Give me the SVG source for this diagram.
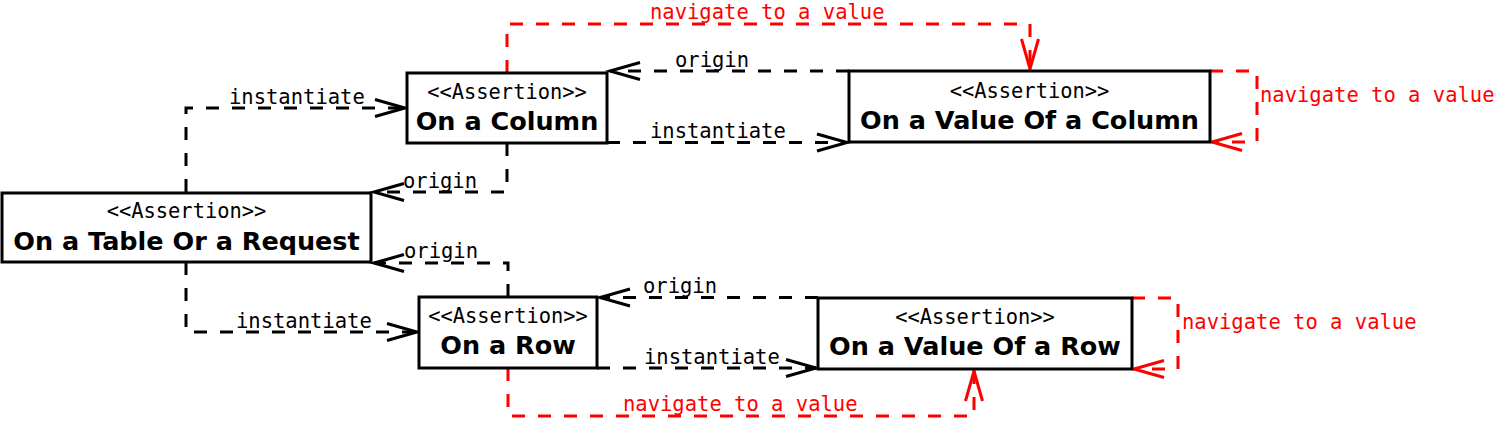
<svg xmlns="http://www.w3.org/2000/svg" width="1498" height="445" viewBox="0 0 1498 445">
<style>
  .box { fill: #ffffff; stroke: #000000; stroke-width: 3; }
  .st { font-family: "DejaVu Sans Mono", "Liberation Mono", monospace; font-size: 20.4px; fill: #000000; text-anchor: middle; }
  .nm { font-family: "DejaVu Sans", "Liberation Sans", sans-serif; font-size: 25.5px; font-weight: bold; fill: #000000; text-anchor: middle; }
  .lbl { font-family: "DejaVu Sans Mono", "Liberation Mono", monospace; font-size: 20.5px; fill: #000000; }
  .rlbl { font-family: "DejaVu Sans Mono", "Liberation Mono", monospace; font-size: 20.5px; fill: #ff0000; }
  .dep { fill: none; stroke: #000000; stroke-width: 3; stroke-dasharray: 13 13; marker-end: url(#ab); }
  .nav { fill: none; stroke: #ff0000; stroke-width: 3; stroke-dasharray: 13 13; marker-end: url(#ar); }
</style>
<defs>
  <marker id="ab" markerUnits="userSpaceOnUse" markerWidth="40" markerHeight="24" refX="0" refY="0" viewBox="-32 -12 36 24" orient="auto" overflow="visible">
    <path d="M-30,-8.5 L0,0 L-30,8.5" fill="none" stroke="#000000" stroke-width="3" stroke-dasharray="none"/>
  </marker>
  <marker id="ar" markerUnits="userSpaceOnUse" markerWidth="40" markerHeight="24" refX="0" refY="0" viewBox="-32 -12 36 24" orient="auto" overflow="visible">
    <path d="M-30,-8.5 L0,0 L-30,8.5" fill="none" stroke="#ff0000" stroke-width="3" stroke-dasharray="none"/>
  </marker>
</defs>
<rect width="1498" height="445" fill="#ffffff"/>
<g id="connectors">
  <path class="dep" d="M186,192 V108 H405"/>
  <path class="dep" d="M507,143 V192 H374"/>
  <path class="dep" d="M607,142.5 H847"/>
  <path class="dep" d="M849,71 H610"/>
  <path class="dep" d="M186,262 V332 H417"/>
  <path class="dep" d="M508,297 V263 H374"/>
  <path class="dep" d="M597,368 H816"/>
  <path class="dep" d="M818,297.5 H600"/>
  <path class="nav" d="M507,73 V24 H1030 V69"/>
  <path class="nav" d="M1210,71 H1257 V142 H1212"/>
  <path class="nav" d="M508,368 V416 H974 V371"/>
  <path class="nav" d="M1132,298 H1178 V369 H1134"/>
  <text class="lbl" x="229" y="104">instantiate</text>
  <text class="lbl" x="403" y="188">origin</text>
  <text class="lbl" x="404" y="258">origin</text>
  <text class="lbl" x="236" y="328">instantiate</text>
  <text class="lbl" x="675" y="67">origin</text>
  <text class="lbl" x="650" y="138">instantiate</text>
  <text class="lbl" x="643" y="293">origin</text>
  <text class="lbl" x="644" y="364">instantiate</text>
  <text class="rlbl" x="650" y="19">navigate to a value</text>
  <text class="rlbl" x="1260" y="102">navigate to a value</text>
  <text class="rlbl" x="1182" y="329">navigate to a value</text>
  <text class="rlbl" x="623" y="411">navigate to a value</text>
</g>
<g id="node-table">
  <rect class="box" x="2" y="193" width="369" height="69"/>
  <text class="st" x="186.5" y="218">&lt;&lt;Assertion&gt;&gt;</text>
  <text class="nm" x="186.5" y="250">On a Table Or a Request</text>
</g>
<g id="node-column">
  <rect class="box" x="407" y="73" width="200" height="70"/>
  <text class="st" x="507" y="99">&lt;&lt;Assertion&gt;&gt;</text>
  <text class="nm" x="507" y="130">On a Column</text>
</g>
<g id="node-value-column">
  <rect class="box" x="849" y="71" width="361" height="71"/>
  <text class="st" x="1029.5" y="97.5">&lt;&lt;Assertion&gt;&gt;</text>
  <text class="nm" x="1029.5" y="128.5">On a Value Of a Column</text>
</g>
<g id="node-row">
  <rect class="box" x="419" y="297" width="178" height="71"/>
  <text class="st" x="508" y="322.5">&lt;&lt;Assertion&gt;&gt;</text>
  <text class="nm" x="508" y="354">On a Row</text>
</g>
<g id="node-value-row">
  <rect class="box" x="818" y="298" width="314" height="71"/>
  <text class="st" x="975" y="324">&lt;&lt;Assertion&gt;&gt;</text>
  <text class="nm" x="975" y="355">On a Value Of a Row</text>
</g>
</svg>
